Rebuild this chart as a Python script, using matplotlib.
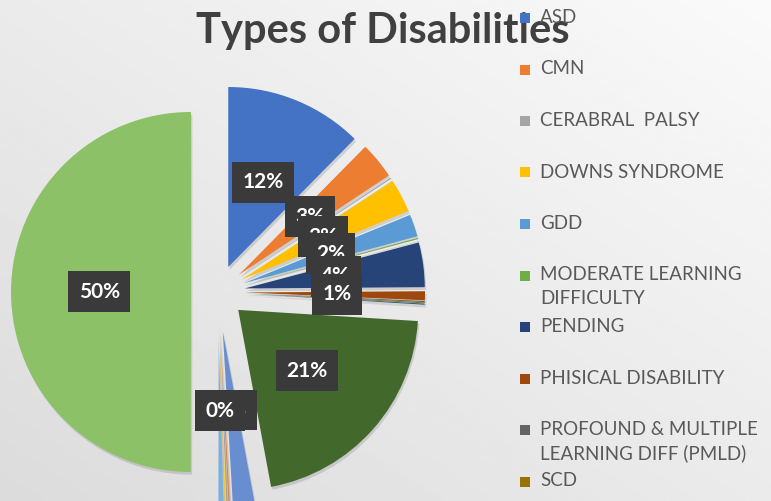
import numpy as np
import matplotlib
matplotlib.use('Agg')
import matplotlib.pyplot as plt
import matplotlib.patheffects as pe
from matplotlib.patches import Rectangle

# slice values (%), clockwise from 12 o'clock
values = [12.4, 3.3, 0.1, 3, 2, 0.1, 4, 0.8, 0.1, 0.1, 0.1,
          21.1, 2.0, 0.15, 0.15, 0.15, 0.5, 50]
labels = ['12%', '3%', '', '3%', '2%', '', '4%', '1%', '', '', '',
          '21%', '0%', '', '', '', '0%', '50%']
colors = ['#4472C4', '#ED7D31', '#A5A5A5', '#FFC000', '#5B9BD5', '#70AD47',
          '#264478', '#9E480E', '#636363', '#997300', '#255E91', '#43682B',
          '#698ED0', '#F1975A', '#B7B7B7', '#FFCD33', '#7CAFDD', '#8CC168']
explode = [0.15] * 12 + [0.22, 0.2, 0.2, 0.2, 0.26, 0.15]

legend_names = ['ASD', 'CMN', 'CERABRAL  PALSY', 'DOWNS SYNDROME', 'GDD',
                'MODERATE LEARNING\nDIFFICULTY', 'PENDING', 'PHISICAL DISABILITY',
                'PROFOUND & MULTIPLE\nLEARNING DIFF (PMLD)', 'SCD']

plt.rcParams['font.family'] = ['Lato', 'DejaVu Sans']

W, H = 771, 501
fig = plt.figure(figsize=(W / 100, H / 100), dpi=100)

# background gradient
bg = fig.add_axes([0, 0, 1, 1])
xx, yy = np.meshgrid(np.linspace(0, 1, 200), np.linspace(0, 1, 200))
grad = 0.86 + 0.06 * xx + 0.06 * yy
bg.imshow(grad, cmap='gray', vmin=0, vmax=1, origin='lower',
          extent=[0, 1, 0, 1], aspect='auto')
bg.axis('off')

# pie axes: center at pixel (218, 292), radius 180 px
r_px, cx, cy = 180, 218, 292
ax = fig.add_axes([0, 0, 1, 1])
ax.set_facecolor('none')
wedges, _ = ax.pie(values, colors=colors, explode=explode, startangle=90,
                   counterclock=False, radius=1,
                   wedgeprops=dict(linewidth=0))
for w in wedges:
    w.set_path_effects([pe.SimplePatchShadow(offset=(1, -2), shadow_rgbFace='k', alpha=0.12),
                        pe.Normal()])
ax.set_xlim(-cx / r_px, (W - cx) / r_px)
ax.set_ylim(-(H - cy) / r_px, cy / r_px)
ax.set_aspect('equal')
ax.axis('off')

for w, lab in zip(wedges, labels):
    if not lab:
        continue
    mid = np.deg2rad((w.theta1 + w.theta2) / 2)
    x, y = 0.66 * np.cos(mid), 0.66 * np.sin(mid)
    ax.text(x, y, lab, ha='center', va='center', color='white', fontsize=15,
            fontweight='bold',
            bbox=dict(boxstyle='square,pad=0.5', fc='#3a3a3a', ec='none'))

fig.text(383 / W, 1 - 31 / H, 'Types of Disabilities', ha='center', va='center',
         fontsize=30, fontweight='bold', color='#404040', zorder=2)

# legend (drawn over the title, as in the original)
for i, (name, col) in enumerate(zip(legend_names, colors)):
    ytop = 18 + 51.5 * i
    fig.patches.append(Rectangle((520 / W, 1 - (ytop + 5) / H), 10 / W, 10 / H,
                                 transform=fig.transFigure, fc=col, ec='none',
                                 zorder=5))
    fig.text(540 / W, 1 - (ytop - 9) / H, name, ha='left', va='top',
             fontsize=13.5, color='#595959', linespacing=1.45, zorder=6)

fig.savefig('out.png', dpi=100)
